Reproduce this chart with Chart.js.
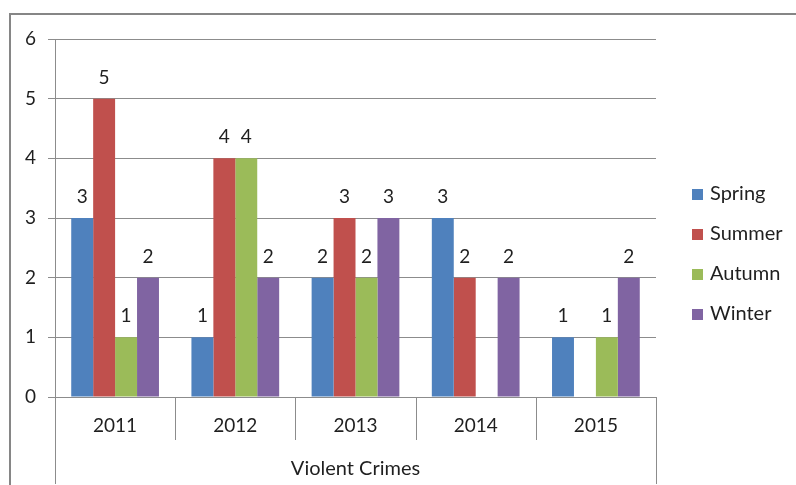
<!DOCTYPE html>
<html>
<head>
<meta charset="utf-8">
<script src="https://cdn.jsdelivr.net/npm/chart.js@4.4.0/dist/chart.umd.min.js"></script>
<style>
html,body{margin:0;padding:0;background:#fff;}
#wrap{width:796px;height:485px;position:relative;}
</style>
</head>
<body>
<div id="wrap"><canvas id="c" width="796" height="485"></canvas></div>
<script>
const categories = ['2011','2012','2013','2014','2015'];
const groupLabel = 'Violent Crimes';
const seriesNames = ['Spring','Summer','Autumn','Winter'];
const spring = [3,1,2,3,1];
const summer = [5,4,3,2,null];
const autumn = [1,4,2,null,1];
const winter = [2,2,3,2,2];
const yTicks = [0,1,2,3,4,5,6];
const colors = ['#4F81BD','#C0504D','#9BBB59','#8064A2'];

const FONT = 'Lato, "Open Sans", sans-serif';
const GRID = '#8c8c8c';
const TEXT = '#1f1f1f';

const frame = {
  id:'frame',
  beforeDraw(chart){
    const ctx = chart.ctx;
    ctx.save();
    ctx.fillStyle='#fff';
    ctx.fillRect(0,0,chart.width,chart.height);
    ctx.strokeStyle='#868686';
    ctx.lineWidth=2;
    ctx.strokeRect(10,14,900,600);
    ctx.restore();
  },
  afterDraw(chart){
    const ctx = chart.ctx, x = chart.scales.x, ca = chart.chartArea;
    ctx.save();
    ctx.strokeStyle=GRID; ctx.lineWidth=1;
    const n = categories.length;
    const step = x.getPixelForValue(1)-x.getPixelForValue(0);
    for(let i=0;i<=n;i++){
      let px = (i<n) ? x.getPixelForValue(i) - step/2 : x.getPixelForValue(n-1) + step/2;
      px = Math.round(px)+0.5;
      const endY = (i===0||i===n) ? 484 : ca.bottom+43;
      ctx.beginPath(); ctx.moveTo(px, ca.bottom); ctx.lineTo(px,endY); ctx.stroke();
    }
    // data labels
    ctx.fillStyle=TEXT; ctx.font='19px '+FONT; ctx.textAlign='center'; ctx.textBaseline='middle';
    chart.data.datasets.forEach((ds,di)=>{
      const meta = chart.getDatasetMeta(di);
      meta.data.forEach((el,i)=>{
        const v = ds.data[i];
        if(v===null||v===undefined) return;
        ctx.fillText(String(v), el.x, el.y-21);
      });
    });
    // legend
    ctx.textAlign='left';
    ctx.font='20px '+FONT;
    chart.data.datasets.forEach((ds,di)=>{
      const cy = 194 + di*40;
      ctx.fillStyle=ds.backgroundColor;
      ctx.fillRect(692, cy-5, 11, 11);
      ctx.fillStyle=TEXT;
      ctx.fillText(ds.label, 710, cy);
    });
    ctx.restore();
  }
};

const datasets = [spring,summer,autumn,winter].map((d,i)=>({
  label: seriesNames[i], data: d, backgroundColor: colors[i], borderWidth:0
}));

new Chart(document.getElementById('c'),{
  type:'bar',
  data:{labels:categories, datasets},
  options:{
    responsive:false, animation:false,
    layout:{padding:{top:39,right:140,left:0,bottom:0}},
    datasets:{bar:{categoryPercentage:0.73,barPercentage:1}},
    plugins:{legend:{display:false},tooltip:{enabled:false}},
    scales:{
      x:{
        grid:{display:false,drawTicks:false},
        border:{display:false},
        ticks:{color:TEXT,font:{family:FONT,size:19},padding:17},
        title:{display:true,text:groupLabel,color:TEXT,font:{family:FONT,size:20},padding:{top:3,bottom:4}},
        afterFit(s){s.height=88;}
      },
      y:{
        min:0,max:6,
        afterBuildTicks(s){s.ticks=yTicks.map(v=>({value:v}));},
        grid:{color:GRID,tickLength:7,drawTicks:true},
        border:{display:true,color:GRID},
        ticks:{color:TEXT,font:{family:FONT,size:19},padding:12},
        afterFit(s){s.width=55;}
      }
    }
  },
  plugins:[frame]
});
</script>
</body>
</html>
